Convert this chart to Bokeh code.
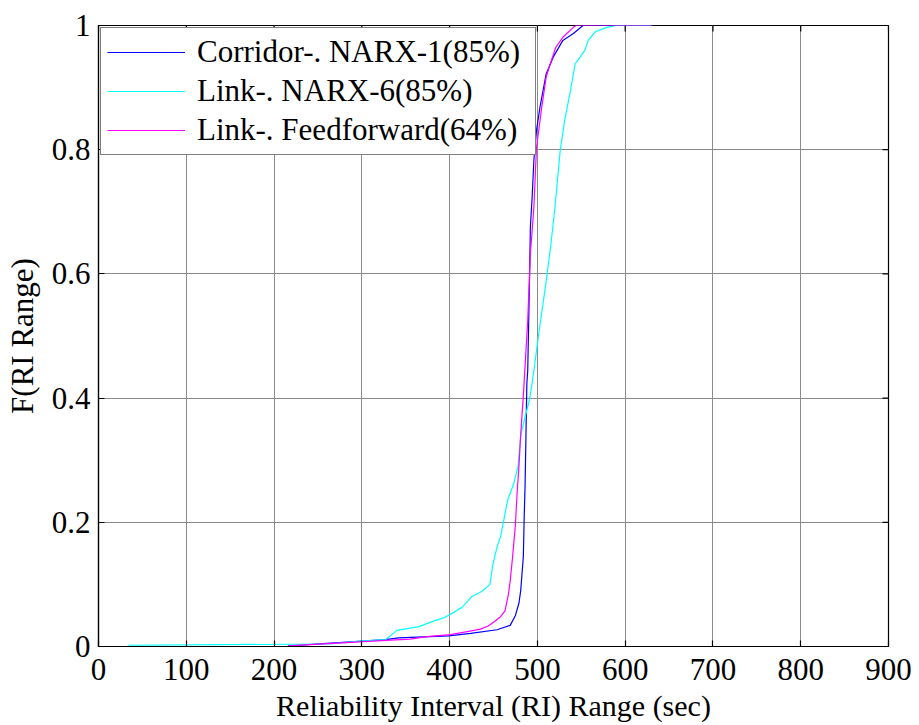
from bokeh.plotting import figure
from bokeh.models import FixedTicker, Range1d, Legend, LegendItem
from bokeh.embed import file_html
from bokeh.resources import INLINE

# ---- data ----
corridor_x = [216, 327, 342, 399, 424, 454, 469, 475, 479, 481, 484, 485, 486, 488, 489,
              491, 492, 494, 496, 499, 503, 510, 518, 529, 541, 552, 630]
corridor_y = [0.001, 0.011, 0.014, 0.017, 0.021, 0.027, 0.034, 0.05, 0.07, 0.09, 0.145, 0.21,
              0.26, 0.424, 0.444, 0.589, 0.675, 0.723, 0.783, 0.831, 0.869, 0.922, 0.949,
              0.976, 0.987, 1.0, 1.0]

narx6_x = [34, 264, 298, 327, 340, 365, 384, 393, 405, 414, 425, 437, 446, 449, 454, 458,
           461, 466, 473, 478, 481, 486, 491, 494, 496, 501, 509, 515, 520, 526, 531, 537,
           543, 547, 554, 558, 566, 579, 590, 630]
narx6_y = [0.002, 0.004, 0.0086, 0.011, 0.026, 0.032, 0.042, 0.046, 0.055, 0.063, 0.08, 0.089,
           0.1, 0.13, 0.16, 0.177, 0.198, 0.235, 0.262, 0.29, 0.34, 0.37, 0.397, 0.424,
           0.444, 0.498, 0.578, 0.643, 0.707, 0.799, 0.847, 0.89, 0.938, 0.946, 0.96, 0.976,
           0.99, 0.997, 1.0, 1.0]

ff_x = [216, 328, 355, 374, 401, 420, 435, 444, 452, 458, 463, 467, 469, 472, 475, 477, 479,
        481, 484, 489, 492, 496, 499, 505, 510, 516, 521, 529, 541, 544, 630]
ff_y = [0.001, 0.01, 0.012, 0.016, 0.019, 0.024, 0.028, 0.033, 0.041, 0.048, 0.057, 0.084,
        0.105, 0.148, 0.197, 0.25, 0.29, 0.342, 0.404, 0.525, 0.632, 0.707, 0.804, 0.869,
        0.917, 0.944, 0.965, 0.981, 0.997, 1.0, 1.0]

series_labels = ["Corridor-. NARX-1(85%)", "Link-. NARX-6(85%)", "Link-. Feedforward(64%)"]
x_ticks = [0, 100, 200, 300, 400, 500, 600, 700, 800, 900]
y_ticks = [0, 0.2, 0.4, 0.6, 0.8, 1.0]
y_tick_labels = ["0", "0.2", "0.4", "0.6", "0.8", "1"]

FONT = "'Liberation Serif', 'Times New Roman', serif"
X_MIN, X_MAX, Y_MIN, Y_MAX = 0, 900, 0, 1
FRAME_W, FRAME_H = 790, 621
TICK_PX = 6

p = figure(width=913, height=724, output_backend="svg", toolbar_location=None,
           x_range=Range1d(X_MIN, X_MAX), y_range=Range1d(Y_MIN, Y_MAX),
           frame_width=FRAME_W, frame_height=FRAME_H,
           min_border_left=98, min_border_right=25, min_border_top=25, min_border_bottom=78,
           background_fill_color="white", border_fill_color="white")
p.outline_line_color = "black"
p.outline_line_width = 1.2

r1 = p.line(corridor_x, corridor_y, line_color="#0000FF", line_width=1.2)
r2 = p.line(narx6_x, narx6_y, line_color="#00FFFF", line_width=1.2)
r3 = p.line(ff_x, ff_y, line_color="#FF00FF", line_width=1.2)

for ax in (p.xaxis[0], p.yaxis[0]):
    ax.major_tick_in = TICK_PX
    ax.major_tick_out = 0
    ax.minor_tick_in = 0
    ax.minor_tick_out = 0
    ax.axis_line_color = "black"
    ax.axis_line_width = 1.2
    ax.major_tick_line_width = 1.2
    ax.major_label_text_font = FONT
    ax.major_label_text_font_size = "31px"
    ax.major_label_text_color = "black"
    ax.axis_label_text_font = FONT
    ax.axis_label_text_font_style = "normal"
    ax.axis_label_text_color = "black"

p.xaxis[0].axis_label_text_font_size = "30px"
p.yaxis[0].axis_label_text_font_size = "31px"
p.xaxis[0].ticker = FixedTicker(ticks=x_ticks)
p.yaxis[0].ticker = FixedTicker(ticks=y_ticks)
p.yaxis[0].major_label_overrides = {t: l for t, l in zip(y_ticks, y_tick_labels)}
p.xaxis[0].axis_label = "Reliability Interval (RI) Range (sec)"
p.yaxis[0].axis_label = "F(RI Range)"
p.xaxis[0].major_label_standoff = 12
p.xaxis[0].axis_label_standoff = 6
p.yaxis[0].major_label_standoff = 8
p.yaxis[0].axis_label_standoff = 9

# top and right inward ticks (box style)
dx = TICK_PX * (X_MAX - X_MIN) / FRAME_W
dy = TICK_PX * (Y_MAX - Y_MIN) / FRAME_H
p.segment(x0=x_ticks, y0=[Y_MAX] * len(x_ticks), x1=x_ticks, y1=[Y_MAX - dy] * len(x_ticks),
          line_color="black", line_width=1.2)
p.segment(x0=[X_MAX] * len(y_ticks), y0=y_ticks, x1=[X_MAX - dx] * len(y_ticks), y1=y_ticks,
          line_color="black", line_width=1.2)

p.xgrid.ticker = FixedTicker(ticks=x_ticks)
p.ygrid.ticker = FixedTicker(ticks=y_ticks)
p.grid.grid_line_color = "#8a8a8a"
p.grid.grid_line_width = 1

legend = Legend(items=[LegendItem(label=series_labels[0], renderers=[r1]),
                       LegendItem(label=series_labels[1], renderers=[r2]),
                       LegendItem(label=series_labels[2], renderers=[r3])],
                location="top_left")
legend.label_text_font = FONT
legend.label_text_font_size = "31px"
legend.label_text_color = "black"
legend.glyph_width = 78
legend.glyph_height = 36
legend.label_height = 36
legend.label_width = 332
legend.label_standoff = 12
legend.spacing = 3
legend.padding = 6
legend.margin = 2
legend.border_line_color = "black"
legend.border_line_width = 1.5
legend.background_fill_color = "white"
legend.background_fill_alpha = 1
p.add_layout(legend)

open("out.html", "w").write(file_html(p, INLINE))
